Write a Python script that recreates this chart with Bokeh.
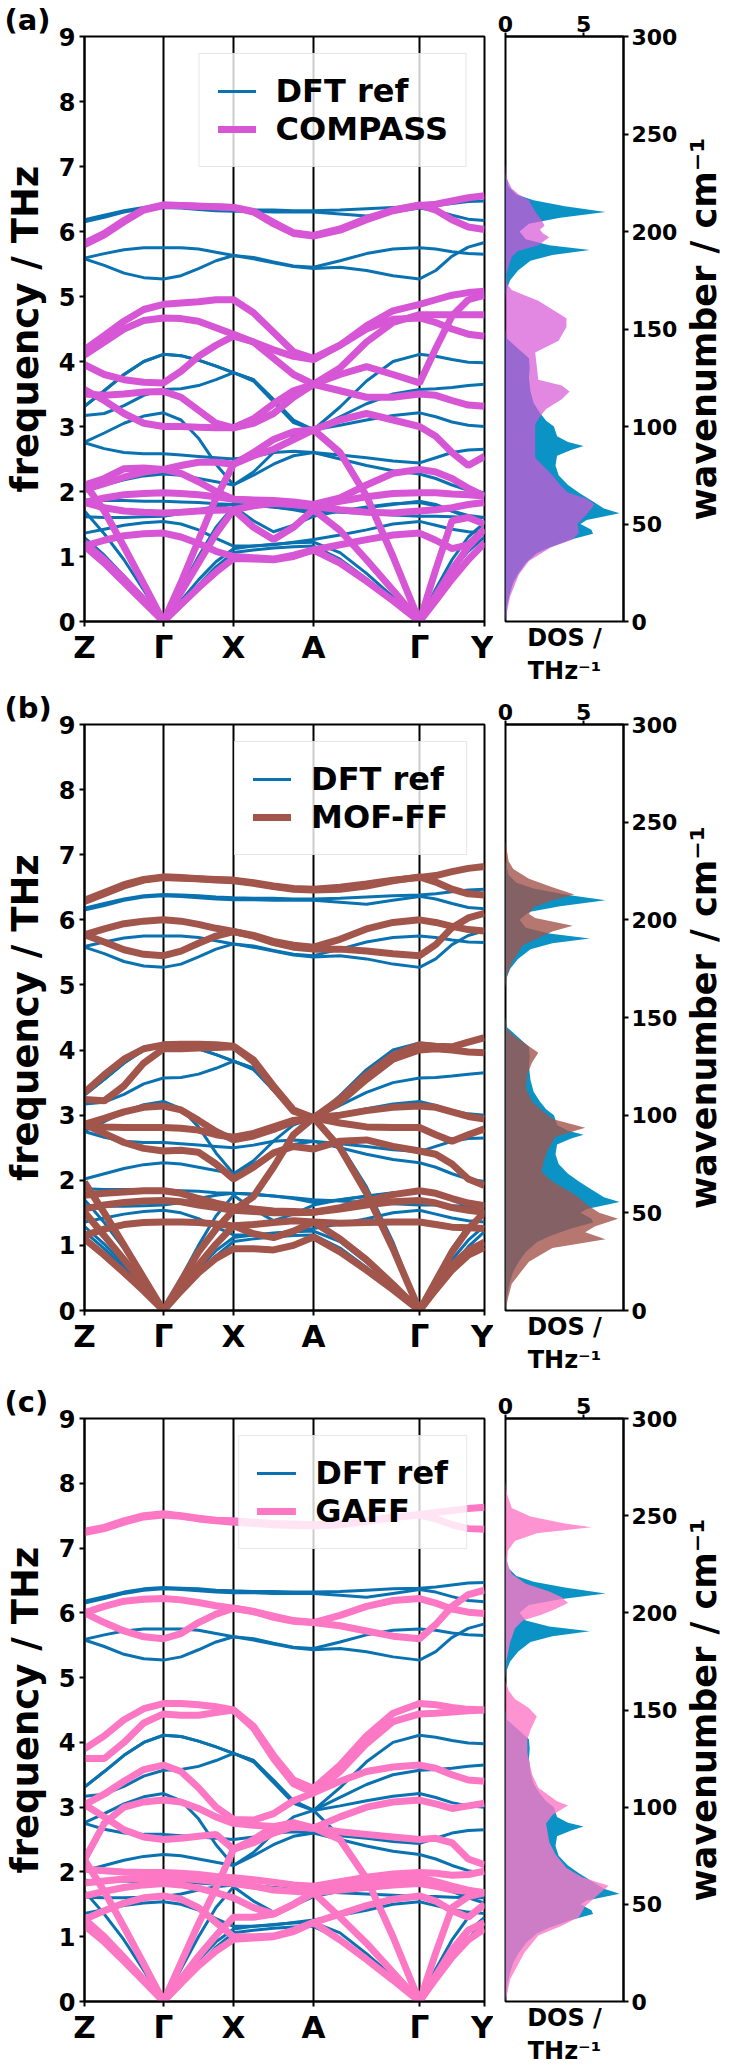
from bokeh.plotting import figure
from bokeh.models import Range1d, FixedTicker, LinearAxis, Span
from bokeh.layouts import column, row
from bokeh.embed import file_html
from bokeh.resources import INLINE

FONT = "DejaVu Sans"

# ---------------- k-path ----------------
kpath_labels = ["Z", "Γ", "X", "A", "Γ", "Y"]
kpath_pos = [0, 79, 149, 229, 335, 400]
seg_fracs = [0, 0.25, 0.5, 0.75]

freq_ticks = [0, 1, 2, 3, 4, 5, 6, 7, 8, 9]
wn_ticks = [0, 50, 100, 150, 200, 250, 300]
dos_ticks = [0, 5]
freq_max = 9
wn_max = 300
dos_max = 7.55

# ---------------- bands (THz), sampled at Z,q,q,q,Γ,q,q,q,X,q,q,q,A,q,q,q,Γ,q,q,q,Y ----------------
dft_bands = [
    [6.18,6.25,6.32,6.37,6.39, 6.38,6.37,6.35,6.34, 6.33,6.33,6.32,6.32, 6.33,6.35,6.37,6.38, 6.40,6.43,6.46,6.47],
    [6.15,6.22,6.30,6.35,6.37, 6.36,6.34,6.32,6.31, 6.31,6.30,6.30,6.30, 6.27,6.24,6.30,6.36, 6.32,6.25,6.19,6.17],
    [5.59,5.66,5.72,5.75,5.75, 5.75,5.73,5.68,5.63, 5.60,5.53,5.47,5.45, 5.55,5.66,5.73,5.75, 5.73,5.69,5.66,5.65],
    [5.58,5.48,5.36,5.29,5.27, 5.32,5.43,5.55,5.63, 5.58,5.52,5.46,5.43, 5.45,5.40,5.32,5.27, 5.40,5.62,5.76,5.83],
    [1.21,0.95,0.65,0.33,0.00, 0.28,0.56,0.84,1.06, 1.10,1.13,1.15,1.16, 0.96,0.66,0.33,0.00, 0.35,0.68,0.98,1.21],
    [1.29,1.02,0.70,0.36,0.00, 0.32,0.64,0.92,1.12, 1.16,1.19,1.21,1.22, 1.06,0.74,0.38,0.00, 0.40,0.78,1.08,1.30],
    [1.70,1.35,0.95,0.48,0.00, 0.50,1.00,1.45,1.77, 1.55,1.38,1.48,1.62, 1.70,1.76,1.81,1.83, 1.78,1.70,1.63,1.60],
    [1.36,1.42,1.48,1.52,1.54, 1.50,1.41,1.28,1.16, 1.16,1.18,1.22,1.26, 1.33,1.41,1.50,1.54, 1.48,1.42,1.38,1.36],
    [1.61,1.60,1.60,1.61,1.62, 1.66,1.72,1.77,1.80, 1.79,1.76,1.73,1.70, 1.68,1.66,1.64,1.62, 1.62,1.61,1.60,1.60],
    [1.87,1.86,1.86,1.85,1.85, 1.84,1.83,1.81,1.80, 1.78,1.76,1.72,1.66, 1.70,1.75,1.80,1.85, 1.80,1.70,1.60,1.52],
    [2.02,2.10,2.18,2.24,2.27, 2.25,2.20,2.15,2.10, 2.25,2.42,2.55,2.60, 2.50,2.40,2.32,2.27, 2.20,2.10,2.02,1.98],
    [2.75,2.66,2.60,2.58,2.58, 2.56,2.54,2.52,2.50, 2.54,2.60,2.62,2.60, 2.56,2.52,2.47,2.44, 2.52,2.60,2.64,2.65],
    [2.76,2.90,3.05,3.16,3.21, 3.10,2.82,2.42,2.10, 2.30,2.60,2.85,2.95, 2.55,1.90,1.05,0.00, 0.50,0.95,1.30,1.52],
    [3.17,3.20,3.32,3.48,3.57, 3.58,3.63,3.72,3.83, 3.72,3.40,3.08,2.95, 3.02,3.10,3.17,3.21, 3.15,3.07,3.02,3.00],
    [3.31,3.55,3.80,4.00,4.11, 4.09,4.02,3.93,3.83, 3.70,3.38,3.06,2.95, 3.15,3.35,3.50,3.57, 3.58,3.60,3.63,3.65],
    [3.31,3.55,3.80,4.00,4.11, 4.09,4.02,3.93,3.83, 3.72,3.42,3.10,2.95, 3.30,3.70,4.00,4.11, 4.08,4.03,3.99,3.98],
]

compass_bands = [
    [5.80,5.95,6.15,6.33,6.40, 6.40,6.39,6.38,6.37, 6.30,6.12,5.97,5.93, 6.02,6.18,6.32,6.40, 6.42,6.47,6.52,6.55],
    [5.82,5.97,6.17,6.34,6.41, 6.40,6.39,6.38,6.37, 6.31,6.14,5.98,5.94, 6.04,6.20,6.33,6.41, 6.33,6.18,6.07,6.03],
    [1.16,0.90,0.60,0.30,0.00, 0.26,0.52,0.76,0.97, 0.96,0.95,1.00,1.10, 0.90,0.62,0.32,0.00, 0.32,0.65,0.95,1.21],
    [1.21,0.95,0.66,0.34,0.00, 0.45,0.90,1.35,1.72, 1.45,1.26,1.45,1.72, 1.40,0.95,0.48,0.00, 0.40,0.80,1.15,1.42],
    [2.13,1.70,1.15,0.58,0.00, 0.60,1.25,1.90,2.42, 2.60,2.80,2.92,2.95, 2.60,1.93,1.00,0.00, 0.80,1.55,1.60,1.50],
    [1.16,1.25,1.32,1.35,1.36, 1.30,1.20,1.08,1.00, 0.98,0.96,1.02,1.10, 1.18,1.26,1.33,1.36, 1.25,1.12,1.18,1.42],
    [1.83,1.75,1.70,1.68,1.67, 1.68,1.70,1.71,1.72, 1.78,1.82,1.80,1.77, 1.72,1.68,1.67,1.70, 1.72,1.75,1.80,1.83],
    [1.83,1.90,1.95,1.97,1.98, 1.97,1.95,1.92,1.88, 1.86,1.83,1.80,1.77, 1.85,1.92,1.97,1.98, 1.98,1.96,1.95,1.93],
    [2.03,2.12,2.22,2.30,2.34, 2.28,2.15,2.00,1.88, 1.87,1.86,1.84,1.80, 1.90,2.10,2.28,2.34, 2.30,2.20,2.05,1.93],
    [3.57,3.40,3.20,3.05,3.00, 3.00,2.99,2.98,2.98, 3.12,3.35,3.55,3.65, 3.55,3.45,3.45,3.50, 3.48,3.40,3.33,3.31],
    [3.50,3.48,3.50,3.53,3.54, 3.45,3.25,3.05,2.98, 3.05,3.20,3.45,3.65, 3.80,3.92,3.80,3.67, 4.20,4.70,4.95,5.02],
    [3.95,3.80,3.72,3.68,3.67, 3.85,4.08,4.25,4.39, 4.30,4.18,4.08,4.03, 4.25,4.50,4.65,4.67, 4.60,4.50,4.42,4.39],
    [4.18,4.40,4.62,4.80,4.88, 4.90,4.92,4.95,4.95, 4.75,4.45,4.15,4.05, 4.25,4.55,4.78,4.88, 4.95,5.02,5.06,5.08],
    [4.10,4.30,4.50,4.63,4.67, 4.66,4.62,4.52,4.42, 4.30,4.05,3.80,3.65, 3.90,4.30,4.60,4.72, 4.72,4.72,4.72,4.72],
    [2.10,2.20,2.35,2.36,2.34, 2.40,2.45,2.45,2.42, 2.55,2.65,2.80,2.95, 3.10,3.20,3.10,3.00, 2.85,2.60,2.40,2.54],
]

moff_bands = [
    [6.28,6.40,6.52,6.61,6.65, 6.64,6.63,6.62,6.61, 6.57,6.52,6.48,6.47, 6.50,6.55,6.61,6.65, 6.68,6.74,6.79,6.82],
    [6.30,6.42,6.54,6.62,6.66, 6.65,6.63,6.61,6.60, 6.56,6.51,6.47,6.46, 6.47,6.52,6.60,6.66, 6.58,6.47,6.40,6.38],
    [5.77,5.86,5.94,5.98,6.00, 5.98,5.93,5.87,5.82, 5.76,5.67,5.61,5.58, 5.70,5.86,5.96,6.00, 5.96,5.90,5.85,5.83],
    [5.77,5.66,5.54,5.47,5.45, 5.52,5.64,5.75,5.82, 5.75,5.65,5.58,5.55, 5.55,5.52,5.48,5.45, 5.62,5.88,6.03,6.10],
    [3.35,3.62,3.86,4.02,4.08, 4.09,4.09,4.08,4.06, 3.85,3.45,3.08,2.96, 3.25,3.62,3.92,4.08, 4.06,4.05,4.12,4.19],
    [3.24,3.22,3.45,3.80,4.02, 4.02,4.03,4.04,4.05, 3.82,3.42,3.06,2.96, 3.20,3.55,3.86,4.00, 4.02,4.00,3.97,3.96],
    [2.86,2.95,3.05,3.12,3.14, 3.08,2.92,2.75,2.62, 2.68,2.78,2.90,2.96, 3.00,3.07,3.12,3.14, 3.12,3.05,2.98,2.94],
    [2.84,2.82,2.81,2.81,2.81, 2.80,2.77,2.70,2.66, 2.72,2.82,2.92,2.96, 2.88,2.82,2.81,2.81, 2.70,2.60,2.70,2.79],
    [2.86,2.72,2.58,2.49,2.45, 2.46,2.43,2.25,2.02, 2.20,2.42,2.52,2.48, 2.60,2.62,2.52,2.45, 2.40,2.25,2.02,1.92],
    [1.77,1.80,1.82,1.84,1.84, 1.80,1.72,1.65,1.59, 1.56,1.53,1.52,1.51, 1.58,1.68,1.78,1.84, 1.80,1.72,1.65,1.61],
    [1.56,1.62,1.66,1.68,1.69, 1.67,1.62,1.58,1.54, 1.52,1.50,1.50,1.51, 1.56,1.62,1.67,1.69, 1.65,1.58,1.54,1.51],
    [1.15,1.25,1.32,1.35,1.36, 1.36,1.35,1.33,1.30, 1.18,1.12,1.22,1.36, 1.34,1.35,1.36,1.36, 1.32,1.28,1.27,1.26],
    [1.10,0.85,0.58,0.30,0.00, 0.30,0.58,0.80,0.95, 0.95,0.93,1.00,1.13, 0.90,0.62,0.32,0.00, 0.32,0.62,0.85,0.97],
    [1.51,1.15,0.78,0.40,0.00, 0.35,0.70,1.02,1.30, 1.32,1.35,1.38,1.36, 1.10,0.78,0.40,0.00, 0.35,0.70,0.92,1.05],
    [1.97,1.50,1.00,0.50,0.00, 0.45,0.90,1.25,1.54, 1.75,2.20,2.70,2.96, 2.50,1.80,0.95,0.00, 0.45,0.90,1.25,1.51],
]

gaff_bands = [
    [7.26,7.32,7.42,7.50,7.53, 7.50,7.46,7.43,7.42, 7.40,7.38,7.37,7.36, 7.38,7.42,7.48,7.52, 7.55,7.58,7.61,7.63],
    [7.24,7.30,7.40,7.48,7.51, 7.49,7.45,7.42,7.40, 7.38,7.36,7.35,7.34, 7.36,7.41,7.47,7.51, 7.45,7.36,7.30,7.29],
    [6.00,6.10,6.18,6.21,6.22, 6.20,6.16,6.11,6.07, 6.02,5.95,5.88,5.85, 5.96,6.10,6.19,6.22, 6.15,6.06,6.01,5.99],
    [6.00,5.85,5.72,5.63,5.60, 5.68,5.85,5.98,6.07, 6.02,5.93,5.87,5.85, 5.80,5.72,5.64,5.60, 5.82,6.10,6.28,6.35],
    [3.90,4.10,4.35,4.52,4.60, 4.60,4.58,4.55,4.50, 4.25,3.80,3.42,3.29, 3.65,4.10,4.45,4.60, 4.58,4.54,4.51,4.50],
    [3.75,3.75,4.00,4.30,4.44, 4.42,4.42,4.46,4.50, 4.22,3.75,3.36,3.22, 3.55,3.98,4.32,4.44, 4.45,4.47,4.49,4.50],
    [3.04,3.20,3.40,3.58,3.65, 3.55,3.30,3.00,2.81, 2.80,2.90,3.10,3.22, 3.40,3.55,3.62,3.65, 3.60,3.50,3.42,3.40],
    [2.19,2.75,3.00,3.08,3.11, 3.08,2.98,2.85,2.75, 2.72,2.70,2.69,2.68, 2.85,3.00,3.08,3.11, 3.05,2.98,3.02,3.06],
    [3.04,2.85,2.65,2.54,2.50, 2.52,2.55,2.58,2.35, 2.50,2.70,2.76,2.68, 2.62,2.58,2.54,2.50, 2.52,2.45,2.20,2.11],
    [2.04,2.02,2.00,1.99,1.99, 1.98,1.96,1.93,1.91, 1.88,1.84,1.80,1.78, 1.85,1.92,1.97,1.99, 1.98,1.95,1.96,2.01],
    [1.83,1.86,1.89,1.90,1.91, 1.90,1.88,1.85,1.82, 1.78,1.72,1.70,1.68, 1.78,1.85,1.90,1.91, 1.85,1.78,1.72,1.68],
    [1.27,1.40,1.52,1.60,1.63, 1.58,1.45,1.22,1.00, 1.00,1.01,1.10,1.22, 1.35,1.48,1.58,1.63, 1.55,1.40,1.30,1.50],
    [1.63,1.70,1.76,1.80,1.82, 1.80,1.75,1.68,1.60, 1.45,1.35,1.50,1.68, 1.72,1.76,1.80,1.82, 1.78,1.72,1.70,1.68],
    [1.17,0.92,0.62,0.31,0.00, 0.28,0.55,0.78,0.96, 0.98,1.00,1.08,1.22, 0.95,0.65,0.33,0.00, 0.35,0.68,0.95,1.12],
    [1.27,1.00,0.68,0.34,0.00, 0.35,0.70,1.02,1.30, 1.30,1.35,1.50,1.68, 1.30,0.90,0.45,0.00, 0.40,0.80,1.10,1.22],
    [2.19,1.70,1.15,0.58,0.00, 0.60,1.20,1.75,2.35, 2.45,2.60,2.70,2.68, 2.50,1.90,1.00,0.00, 0.75,1.45,1.62,1.68],
]

# ---------------- phonon DOS (wavenumber cm^-1 vs DOS THz^-1) ----------------
dft_dos_wn = [0,5,10,15,20,25,30,35,38,42, 45,47,50,52,55.5,58,62,66,70,75,
              80,85,88,90,92,95,100,103,107,112, 118,125,130,135,140,145,150,165,170,175,
              180,185,188,190.5,193,196,200,204,207,210, 213,216,219,223,230,300]
dft_dos = [0,0.05,0.15,0.3,0.5,0.85,1.3,2.0,2.8,4.2, 5.6,5.5,4.8,5.2,7.3,6.3,5.5,4.7,4.0,3.4,
           3.2,3.3,4.2,5.0,4.0,3.3,3.1,2.6,2.2,1.8, 1.6,1.5,1.55,1.5,0.8,0.1,0.0,0.0,0.05,0.3,
           0.8,1.6,3.0,5.4,2.8,1.3,0.9,1.5,3.5,6.4, 3.8,1.8,0.7,0.2,0.0,0.0]

compass_dos_wn = [0,5,13,24,31,38,42,45.5,50,55, 60,63,66,70,75,84,95,101,105,109,
                  114,118,121,124,131,138,144,151,155.5,160, 164.5,167,170,173,178,182,187,190,193,197,
                  199,201,203,206,209,213,216,219,222,227, 235,300]
compass_dos = [0,0.1,0.3,0.85,1.5,2.9,4.3,4.7,4.6,5.2, 5.7,5.2,4.0,3.5,3.0,1.9,1.9,1.9,2.2,2.6,
               3.6,4.1,3.6,2.1,2.0,1.9,3.4,3.9,3.9,3.0, 2.1,1.3,0.4,0.1,0.05,0.2,0.4,0.8,2.1,2.8,
               2.4,2.2,2.5,2.3,2.0,1.7,1.5,0.85,0.4,0.1, 0.0,0.0]

moff_dos_wn = [0,6,13.7,25,32,36.5,40,43,47,50, 53.6,59,66,71,77.6,82,89,93.5,98,102.7,
               107,114,121,127,132,137,141.5,144,150,165, 169,173,178,187,194,197,201,203,206.5,210,
               213,216.7,221,226,230,240,300]
moff_dos = [0,0.15,0.4,1.5,3.0,6.4,5.1,5.7,7.2,6.0, 5.3,4.5,3.0,2.3,2.5,2.7,3.2,5.1,3.0,2.3,
            1.7,1.3,1.4,1.7,2.1,1.2,0.4,0.1,0.0,0.0, 0.05,0.15,0.4,1.1,3.0,4.3,1.9,1.5,1.8,3.0,
            4.4,3.0,1.5,0.5,0.2,0.0,0.0]

gaff_dos_wn = [0,11.5,25,34,39,43.5,49,54,59.5,64, 68.7,75.6,82,91.6,96,100.8,103,110,117,128,
               135,139.7,146.6,151,155.7,160,165,175,185,192, 196,199,202,205,208,211,215,220,226,232,
               237,241,244,246,249.6,254,261,268,300]
gaff_dos = [0,0.3,1.2,2.1,3.6,4.7,5.1,5.8,6.6,4.9, 3.9,3.2,2.8,2.6,3.0,4.0,3.3,2.1,1.7,1.4,
            1.4,1.6,2.0,1.5,0.6,0.2,0.0,0.05,0.3,0.6, 1.1,2.3,3.2,4.0,3.6,2.8,1.3,0.4,0.1,0.15,
            0.6,2.0,5.5,3.8,1.6,0.4,0.1,0.0,0.0]

# ---------------- styles ----------------
DFT_LINE = "#0a72b0"
DFT_FILL = "#0b93c6"
TOP = 36

# sample positions along the path (quarter points of each segment)
kx = []
for i in range(len(kpath_pos) - 1):
    for f in seg_fracs:
        kx.append(kpath_pos[i] + f * (kpath_pos[i + 1] - kpath_pos[i]))
kx.append(kpath_pos[-1])


def style_axis(a, tick_size, label_size=None):
    a.axis_line_width = 2
    a.axis_line_color = "black"
    a.major_tick_line_width = 2
    a.major_tick_line_color = "black"
    a.major_tick_out = 5
    a.major_tick_in = 0
    a.minor_tick_line_color = None
    a.major_label_text_font = FONT
    a.major_label_text_font_style = "bold"
    a.major_label_text_font_size = tick_size
    a.major_label_text_color = "black"
    a.axis_label_text_font = FONT
    a.axis_label_text_font_style = "bold"
    a.axis_label_text_color = "black"
    if label_size:
        a.axis_label_text_font_size = label_size


def panel(tag, ff_name, ff_bands, ff_color, ff_alpha, ff_wn, ff_dos, fh, bb):
    p = figure(frame_width=400, frame_height=fh,
               x_range=Range1d(kpath_pos[0], kpath_pos[-1]), y_range=Range1d(0, freq_max),
               output_backend="svg", toolbar_location=None, title=tag,
               min_border_left=80, min_border_right=9, min_border_top=TOP, min_border_bottom=bb)
    p.title.align = "left"
    p.title.offset = -80
    p.title.standoff = 0
    p.title.text_font = FONT
    p.title.text_font_style = "bold"
    p.title.text_font_size = "29px"
    p.title.text_color = "black"
    p.xgrid.visible = False
    p.ygrid.visible = False
    p.outline_line_color = "black"
    p.outline_line_width = 2
    p.outline_line_alpha = 1

    for k in kpath_pos[1:-1]:
        p.add_layout(Span(location=k, dimension="height", line_color="black",
                          line_width=2, level="underlay"))

    for b in dft_bands:
        p.line(kx, b, line_color=DFT_LINE, line_width=3, legend_label="DFT ref")
    for b in ff_bands:
        p.line(kx, b, line_color=ff_color, line_width=7, legend_label=ff_name)

    xa = p.xaxis[0]
    xa.ticker = FixedTicker(ticks=kpath_pos)
    xa.major_label_overrides = {k: lab for k, lab in zip(kpath_pos, kpath_labels)}
    style_axis(xa, "31px")
    xa.major_label_standoff = 2

    ya = p.yaxis[0]
    ya.ticker = FixedTicker(ticks=freq_ticks)
    ya.axis_label = "frequency / THz"
    style_axis(ya, "24px", "37px")
    ya.major_label_standoff = 4
    ya.axis_label_standoff = 9

    lg = p.legend[0]
    lg.location = "top_right"
    lg.margin = 17
    lg.padding = 18
    lg.spacing = 0
    lg.glyph_width = 38
    lg.glyph_height = 36
    lg.label_height = 36
    lg.label_standoff = 20
    lg.label_text_font = FONT
    lg.label_text_font_style = "bold"
    lg.label_text_font_size = "32px"
    lg.label_text_color = "black"
    lg.background_fill_color = "white"
    lg.background_fill_alpha = 0.8
    lg.border_line_color = "#d0d0d0"
    lg.border_line_width = 1.5

    d = figure(frame_width=118, frame_height=fh,
               x_range=Range1d(0, dos_max), y_range=Range1d(0, wn_max),
               x_axis_location="above", y_axis_location="right",
               output_backend="svg", toolbar_location=None,
               min_border_left=12, min_border_right=56, min_border_top=TOP, min_border_bottom=bb)
    d.xgrid.visible = False
    d.ygrid.visible = False
    d.outline_line_color = "black"
    d.outline_line_width = 2
    d.outline_line_alpha = 1
    d.harea(y=dft_dos_wn, x1=0, x2=dft_dos, fill_color=DFT_FILL, fill_alpha=1.0)
    d.harea(y=ff_wn, x1=0, x2=ff_dos, fill_color=ff_color, fill_alpha=ff_alpha)

    ta = d.xaxis[0]
    ta.ticker = FixedTicker(ticks=dos_ticks)
    style_axis(ta, "22px")
    ta.major_tick_out = 4
    ta.major_label_standoff = 1

    ra = d.yaxis[0]
    ra.ticker = FixedTicker(ticks=wn_ticks)
    style_axis(ra, "22px")
    ra.major_label_standoff = 3

    ba = LinearAxis(ticker=FixedTicker(ticks=[]), axis_label="DOS /\nTHz⁻¹")
    style_axis(ba, "1px", "24px")
    ba.axis_line_color = None
    ba.major_tick_line_color = None
    ba.axis_label_standoff = 2
    d.add_layout(ba, "below")

    # narrow strip carrying the wavenumber axis title (reads bottom to top, centred)
    w = figure(frame_width=1, frame_height=fh, x_range=Range1d(0, 1), y_range=Range1d(0, wn_max),
               x_axis_location=None, output_backend="svg", toolbar_location=None,
               min_border_left=0, min_border_right=0, min_border_top=TOP, min_border_bottom=bb)
    w.xgrid.visible = False
    w.ygrid.visible = False
    w.outline_line_color = None
    wa = w.yaxis[0]
    wa.ticker = FixedTicker(ticks=[])
    wa.axis_label = "wavenumber / cm⁻¹"
    style_axis(wa, "1px", "35px")
    wa.axis_line_color = None
    wa.major_tick_line_color = None
    wa.major_tick_out = 0
    wa.major_label_standoff = 0
    wa.axis_label_standoff = 0

    return row(p, d, w)


ra_ = panel("(a)", "COMPASS", compass_bands, "#d756d6", 0.7, compass_dos_wn, compass_dos, 585, 62)
rb_ = panel("(b)", "MOF-FF", moff_bands, "#a2554b", 0.8, moff_dos_wn, moff_dos, 586, 72)
rc_ = panel("(c)", "GAFF", gaff_bands, "#fd78c4", 0.8, gaff_dos_wn, gaff_dos, 583, 54)

layout = column(ra_, rb_, rc_)
open("out.html", "w").write(file_html(layout, INLINE))
